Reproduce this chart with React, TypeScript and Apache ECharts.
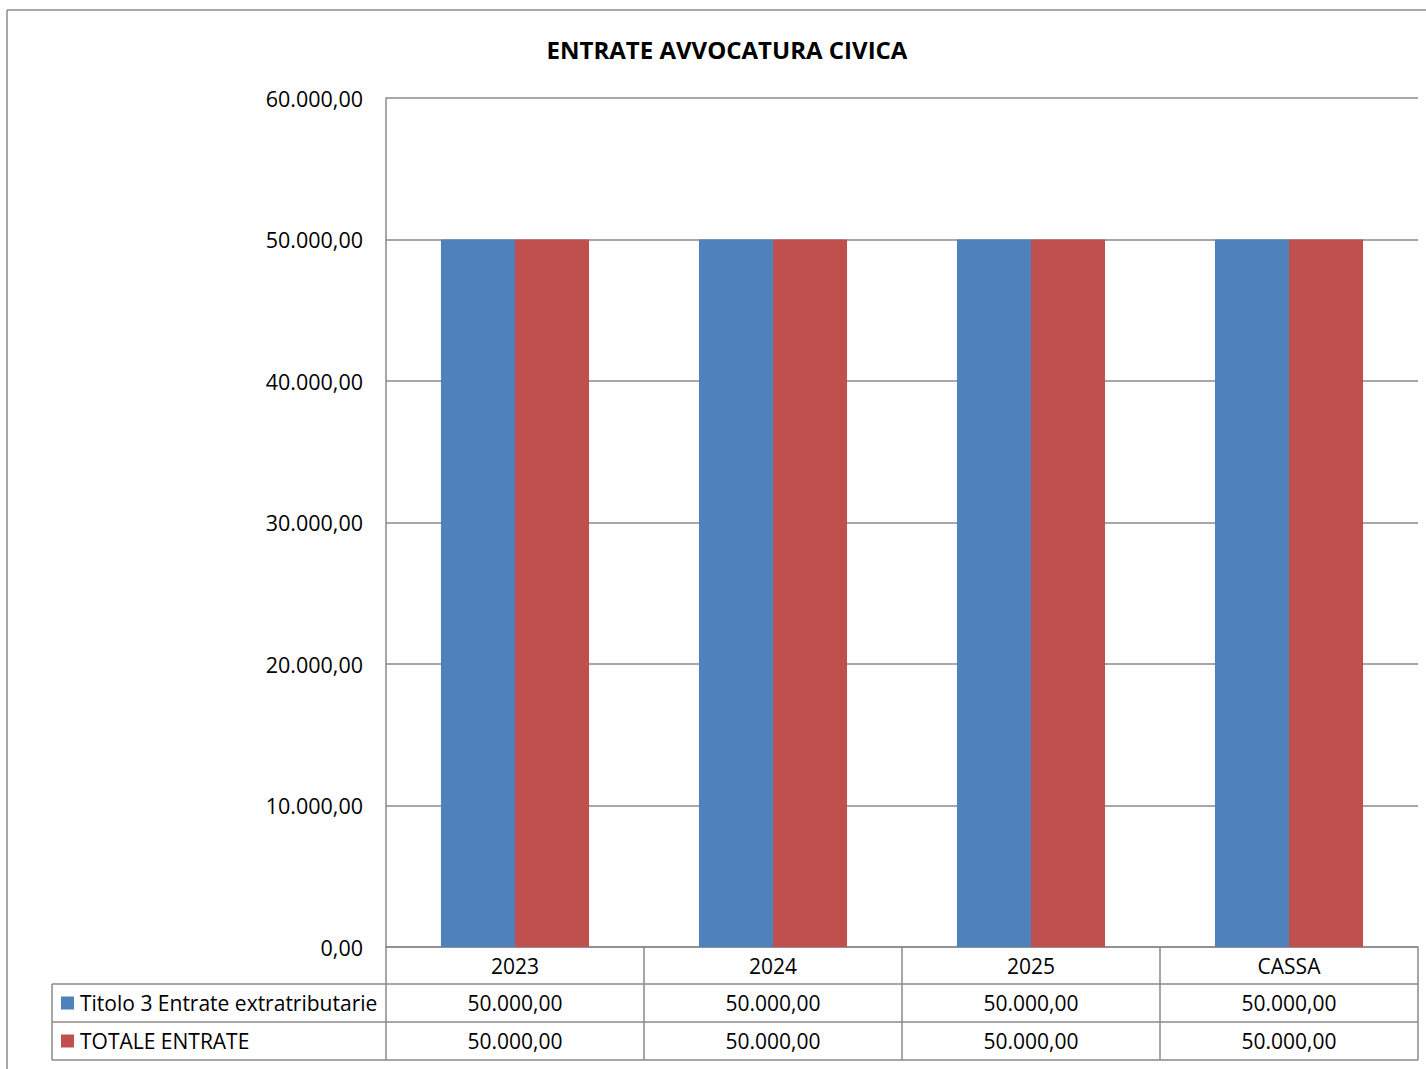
import React, { useEffect, useRef } from "react";
import * as echarts from "echarts";

const title = "ENTRATE AVVOCATURA CIVICA";
const categories = ["2023", "2024", "2025", "CASSA"];
const seriesNames = ["Titolo 3 Entrate extratributarie", "TOTALE ENTRATE"];
const titolo3 = [50000, 50000, 50000, 50000];
const totaleEntrate = [50000, 50000, 50000, 50000];
const yTicks = [0, 10000, 20000, 30000, 40000, 50000, 60000];
const colors = ["#4F81BD", "#C0504D"];

const W = 1426;
const H = 1069;
const plotLeft = 386;
const plotRight = 1418;
const plotTop = 98;
const plotBottom = 947;
const rowEdges = [947, 984, 1022, 1060];
const legendLeft = 52;
const FONT = "'Open Sans', 'Noto Sans', sans-serif";
const FS = 21;
const LINE = "#8a8a8a";

function fmt(v: number): string {
  const fixed = v.toFixed(2);
  const [intPart, dec] = fixed.split(".");
  const withDots = intPart.replace(/\B(?=(\d{3})+(?!\d))/g, ".");
  return withDots + "," + dec;
}

export default function App() {
  const ref = useRef<HTMLDivElement>(null);
  useEffect(() => {
    if (!ref.current) return;
    const chart = echarts.init(ref.current, undefined, { renderer: "svg" });
    const colW = (plotRight - plotLeft) / categories.length;
    const seriesData = [titolo3, totaleEntrate];
    const graphics: any[] = [];
    const ln = (x1: number, y1: number, x2: number, y2: number) => ({
      type: "line",
      shape: { x1, y1, x2, y2 },
      style: { stroke: LINE, lineWidth: 1.5 },
      silent: true,
    });
    // outer border
    graphics.push(ln(7, 10, W + 5, 10));
    graphics.push(ln(7, 10, 7, H + 5));
    // title
    graphics.push({
      type: "text",
      x: 727,
      y: 49,
      style: {
        text: title,
        font: `bold 24px ${FONT}`,
        fill: "#000",
        textAlign: "center",
        textVerticalAlign: "middle",
      },
    });
    // table lines
    graphics.push(ln(plotLeft, rowEdges[0], plotLeft, rowEdges[3]));
    for (let i = 1; i <= categories.length; i++) {
      const x = plotLeft + colW * i;
      graphics.push(ln(x, rowEdges[0], x, rowEdges[3]));
    }
    for (let r = 1; r < rowEdges.length; r++) {
      graphics.push(ln(legendLeft, rowEdges[r], plotRight, rowEdges[r]));
    }
    graphics.push(ln(legendLeft, rowEdges[1], legendLeft, rowEdges[3]));
    // rows
    seriesNames.forEach((name, s) => {
      const cy = (rowEdges[s + 1] + rowEdges[s + 2]) / 2;
      graphics.push({
        type: "rect",
        shape: { x: 61, y: cy - 6.5, width: 13, height: 13 },
        style: { fill: colors[s] },
      });
      graphics.push({
        type: "text",
        x: 80,
        y: cy,
        style: {
          text: name,
          font: `${FS}px ${FONT}`,
          fill: "#000",
          textAlign: "left",
          textVerticalAlign: "middle",
        },
      });
      seriesData[s].forEach((v, i) => {
        graphics.push({
          type: "text",
          x: plotLeft + colW * (i + 0.5),
          y: cy,
          style: {
            text: fmt(v),
            font: `${FS}px ${FONT}`,
            fill: "#000",
            textAlign: "center",
            textVerticalAlign: "middle",
          },
        });
      });
    });

    chart.setOption({
      animation: false,
      backgroundColor: "#fff",
      grid: {
        left: plotLeft,
        right: W - plotRight,
        top: plotTop,
        bottom: H - plotBottom,
        containLabel: false,
      },
      xAxis: {
        type: "category",
        data: categories,
        axisLine: { show: true, lineStyle: { color: LINE, width: 1.5 } },
        axisTick: { show: false },
        axisLabel: {
          color: "#000",
          fontFamily: FONT,
          fontSize: FS,
          margin: 19,
          verticalAlign: "middle",
        },
        splitLine: { show: false },
      },
      yAxis: {
        type: "value",
        min: yTicks[0],
        max: yTicks[yTicks.length - 1],
        interval: yTicks[1] - yTicks[0],
        axisLine: { show: true, lineStyle: { color: LINE, width: 1.5 } },
        axisTick: { show: false },
        axisLabel: {
          color: "#000",
          fontFamily: FONT,
          fontSize: 21.5,
          margin: 23,
          formatter: (v: number) => fmt(v),
        },
        splitLine: { show: true, lineStyle: { color: LINE, width: 1.5 } },
      },
      series: [
        {
          name: seriesNames[0],
          type: "bar",
          data: titolo3,
          itemStyle: { color: colors[0] },
          barGap: "0%",
          barCategoryGap: "42.6%",
        },
        {
          name: seriesNames[1],
          type: "bar",
          data: totaleEntrate,
          itemStyle: { color: colors[1] },
          barGap: "0%",
          barCategoryGap: "42.6%",
        },
      ],
      graphic: graphics,
    });
    return () => chart.dispose();
  }, []);
  return (
    <div
      ref={ref}
      style={{ position: "fixed", left: 0, top: 0, width: W, height: H }}
    />
  );
}
